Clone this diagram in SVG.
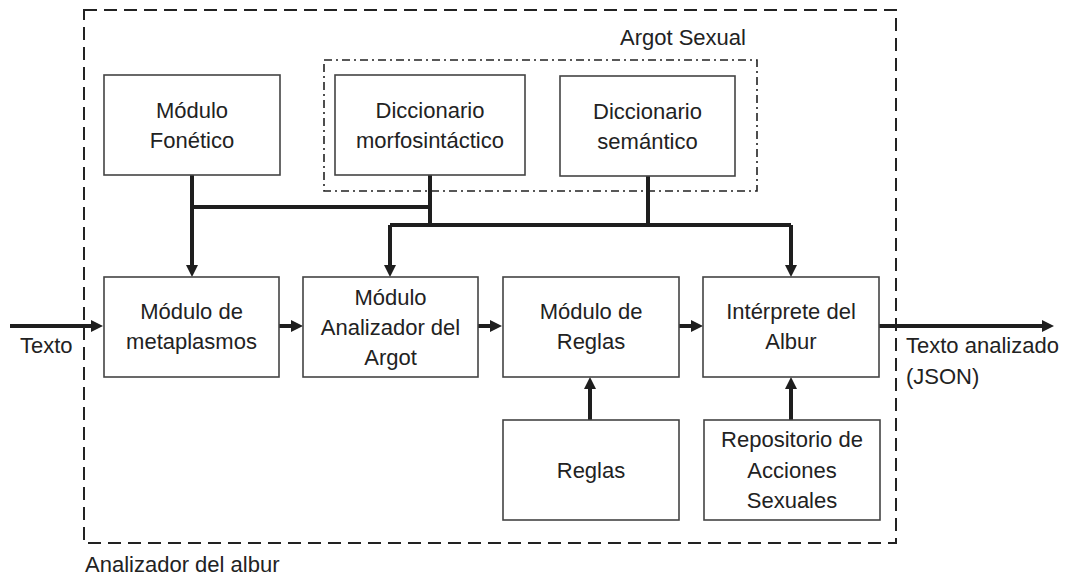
<svg xmlns="http://www.w3.org/2000/svg" width="1065" height="576" viewBox="0 0 1065 576">
<style>
.box{fill:#fff;stroke:#444;stroke-width:1.6}
.t{font-family:"Liberation Sans",Arial,sans-serif;font-size:22px;fill:#222}
.c{text-anchor:middle}
.w{fill:none;stroke:#1e1e1e;stroke-width:4;stroke-linecap:butt;stroke-linejoin:miter}
.a{marker-end:url(#ah)}
</style>
<defs>
<marker id="ah" markerUnits="userSpaceOnUse" markerWidth="13" markerHeight="13" refX="0" refY="6" orient="auto">
<path d="M0,0 L12,6 L0,12 z" fill="#1e1e1e"/>
</marker>
</defs>
<rect width="1065" height="576" fill="#fff"/>
<g id="analizador-del-albur">
<rect x="84" y="10" width="812" height="533" fill="none" stroke="#222" stroke-width="2" stroke-dasharray="13,7"/>
<text class="t" x="85" y="572">Analizador del albur</text>
</g>
<g id="argot-sexual">
<rect x="324" y="60" width="433" height="131" fill="none" stroke="#222" stroke-width="1.6" stroke-dasharray="8,4,2,4"/>
<text class="t" x="620" y="45">Argot Sexual</text>
</g>
<g id="connectors">
<polyline class="w a" points="192,175 192,265"/>
<polyline class="w" points="192,207 430,207"/>
<polyline class="w" points="430,175 430,225"/>
<polyline class="w" points="648,176 648,225"/>
<polyline class="w" points="390,225 791,225"/>
<polyline class="w a" points="390,225 390,265"/>
<polyline class="w a" points="791,225 791,265"/>
<polyline class="w a" points="10,326 91,326"/>
<polyline class="w a" points="279,326 291,326"/>
<polyline class="w a" points="478,326 490,326"/>
<polyline class="w a" points="679,326 691,326"/>
<polyline class="w a" points="879,326 1042,326"/>
<polyline class="w a" points="590,420 590,389"/>
<polyline class="w a" points="791,420 791,389"/>
<text class="t" x="20" y="353">Texto</text>
<text class="t" x="906" y="353">Texto analizado</text>
<text class="t" x="906" y="384">(JSON)</text>
</g>
<g id="modulo-fonetico">
<rect class="box" x="104" y="75" width="176" height="100"/>
<text class="t c" x="192" y="118">Módulo</text>
<text class="t c" x="192" y="148">Fonético</text>
</g>
<g id="diccionario-morfosintactico">
<rect class="box" x="335" y="75" width="190" height="100"/>
<text class="t c" x="430" y="118">Diccionario</text>
<text class="t c" x="430" y="148">morfosintáctico</text>
</g>
<g id="diccionario-semantico">
<rect class="box" x="560" y="76" width="175" height="100"/>
<text class="t c" x="647.5" y="119">Diccionario</text>
<text class="t c" x="647.5" y="149">semántico</text>
</g>
<g id="modulo-metaplasmos">
<rect class="box" x="104" y="277" width="175" height="100"/>
<text class="t c" x="191.5" y="319">Módulo de</text>
<text class="t c" x="191.5" y="349">metaplasmos</text>
</g>
<g id="modulo-analizador-argot">
<rect class="box" x="303" y="277" width="175" height="100"/>
<text class="t c" x="390.5" y="305">Módulo</text>
<text class="t c" x="390.5" y="335">Analizador del</text>
<text class="t c" x="390.5" y="365">Argot</text>
</g>
<g id="modulo-reglas">
<rect class="box" x="503" y="277" width="176" height="100"/>
<text class="t c" x="591" y="319">Módulo de</text>
<text class="t c" x="591" y="349">Reglas</text>
</g>
<g id="interprete-albur">
<rect class="box" x="703" y="277" width="176" height="100"/>
<text class="t c" x="791" y="319">Intérprete del</text>
<text class="t c" x="791" y="349">Albur</text>
</g>
<g id="reglas">
<rect class="box" x="503" y="420" width="176" height="100"/>
<text class="t c" x="591" y="478">Reglas</text>
</g>
<g id="repositorio">
<rect class="box" x="704" y="420" width="176" height="100"/>
<text class="t c" x="792" y="447">Repositorio de</text>
<text class="t c" x="792" y="478">Acciones</text>
<text class="t c" x="792" y="508">Sexuales</text>
</g>
</svg>
